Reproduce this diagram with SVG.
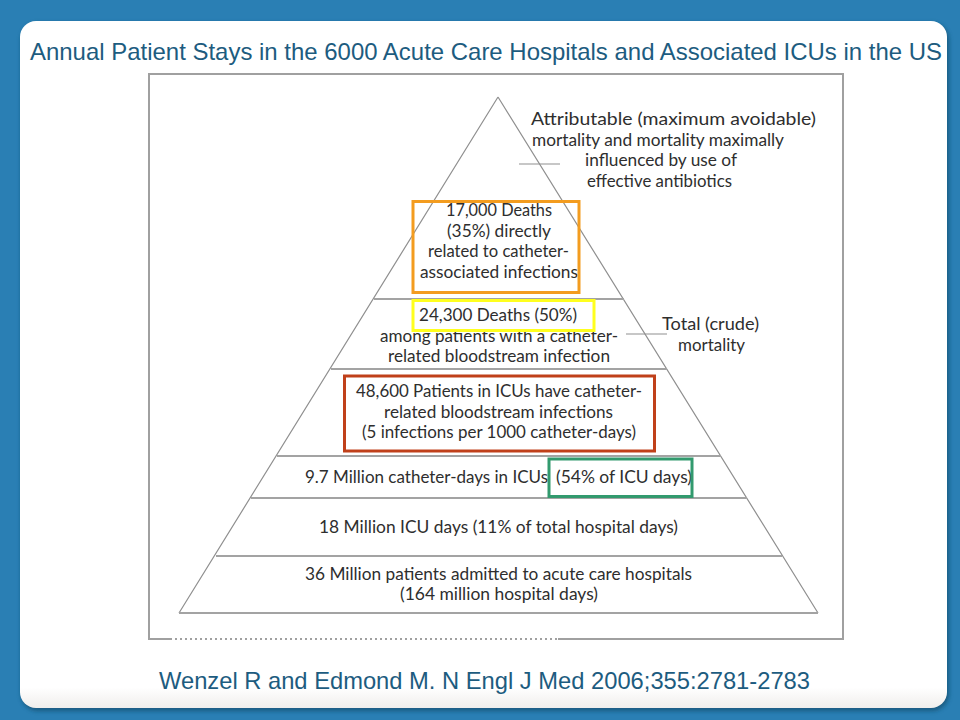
<svg xmlns="http://www.w3.org/2000/svg" width="960" height="720" viewBox="0 0 960 720">
<style>
.h{font-family:"Liberation Sans",Arial,sans-serif;font-size:24px;fill:#1d5c7f}
.t{font-family:Lato,"Open Sans",sans-serif;font-size:16.500px;fill:#2e2e2e;text-anchor:start}
.l{stroke:#8f8f8f;stroke-width:1.2;fill:none}
.b{stroke:#a3a3a3;stroke-width:2;fill:none}
.r{fill:none;stroke-width:3}
</style>
<defs>
<linearGradient id="card" x1="0" y1="0" x2="0" y2="1"><stop offset="0" stop-color="#fff"/><stop offset="0.97" stop-color="#fff"/><stop offset="1" stop-color="#f0eeec"/></linearGradient>
<filter id="sh" x="-5%" y="-5%" width="110%" height="110%"><feGaussianBlur stdDeviation="2"/></filter>
</defs>
<rect width="960" height="720" fill="#2a7fb4"/>
<rect x="21" y="23" width="928" height="688" rx="17" fill="#17506f" opacity=".75" filter="url(#sh)"/>
<rect x="20" y="21" width="927" height="687" rx="16" fill="url(#card)"/>
<text class="h" x="30" y="60" textLength="912" lengthAdjust="spacingAndGlyphs">Annual Patient Stays in the 6000 Acute Care Hospitals and Associated ICUs in the US</text>
<text class="h" x="159" y="689" textLength="651" lengthAdjust="spacingAndGlyphs">Wenzel R and Edmond M. N Engl J Med 2006;355:2781-2783</text>
<g id="figure">
<rect x="149" y="74" width="694" height="565" fill="#fff" stroke="#a0a0a0" stroke-width="2"/>
<line x1="172" y1="639" x2="558" y2="639" stroke="#fff" stroke-width="2" stroke-dasharray="3 2"/>
</g>
<g id="connectors">
<path class="l" d="M498 97 179 613M498 97 818 613"/>
<path class="b" d="M374 299H624M331 369H667M277 456H721M251 498H747M216 556H782M179 613H818"/>
<path class="l" d="M519 164H560M626 334H667"/>
</g>
<g id="attributable">
<text class="t" x="531" y="125" textLength="285" lengthAdjust="spacingAndGlyphs">Attributable (maximum avoidable)</text>
<text class="t" x="532" y="146" textLength="252" lengthAdjust="spacingAndGlyphs">mortality and mortality maximally</text>
<text class="t" x="585" y="166" textLength="152" lengthAdjust="spacingAndGlyphs">influenced by use of</text>
<text class="t" x="587" y="187" textLength="145" lengthAdjust="spacingAndGlyphs">effective antibiotics</text>
</g>
<g id="deaths-17000">
<text class="t" x="446" y="216" textLength="106" lengthAdjust="spacingAndGlyphs">17,000 Deaths</text>
<text class="t" x="447" y="237" textLength="104" lengthAdjust="spacingAndGlyphs">(35%) directly</text>
<text class="t" x="428" y="257" textLength="141" lengthAdjust="spacingAndGlyphs">related to catheter-</text>
<text class="t" x="420" y="278" textLength="158" lengthAdjust="spacingAndGlyphs">associated infections</text>
<rect class="r" x="413" y="201.500" width="166" height="91" stroke="#f39c1f"/>
</g>
<g id="deaths-24300">
<text class="t" x="419" y="321" textLength="158" lengthAdjust="spacingAndGlyphs">24,300 Deaths (50%)</text>
<text class="t" x="380" y="342" textLength="238" lengthAdjust="spacingAndGlyphs">among patients with a catheter-</text>
<text class="t" x="388" y="362" textLength="222" lengthAdjust="spacingAndGlyphs">related bloodstream infection</text>
<rect class="r" x="413" y="300.500" width="181" height="30" stroke="#ffff1e"/>
</g>
<g id="total-mortality">
<text class="t" x="662" y="330" textLength="97" lengthAdjust="spacingAndGlyphs">Total (crude)</text>
<text class="t" x="678" y="351" textLength="67" lengthAdjust="spacingAndGlyphs">mortality</text>
</g>
<g id="patients-48600">
<text class="t" x="356" y="397" textLength="286" lengthAdjust="spacingAndGlyphs">48,600 Patients in ICUs have catheter-</text>
<text class="t" x="384" y="418" textLength="229" lengthAdjust="spacingAndGlyphs">related bloodstream infections</text>
<text class="t" x="362" y="438" textLength="274" lengthAdjust="spacingAndGlyphs">(5 infections per 1000 catheter-days)</text>
<rect class="r" x="344.500" y="376" width="310" height="75" stroke="#c0401a"/>
</g>
<g id="catheter-days">
<text class="t" x="305" y="483" textLength="243" lengthAdjust="spacingAndGlyphs">9.7 Million catheter-days in ICUs</text>
<text class="t" x="556" y="483" textLength="136" lengthAdjust="spacingAndGlyphs">(54% of ICU days)</text>
<rect class="r" x="549" y="459" width="143" height="37.500" stroke="#329a6e"/>
</g>
<g id="icu-days">
<text class="t" x="319" y="533" textLength="359" lengthAdjust="spacingAndGlyphs">18 Million ICU days (11% of total hospital days)</text>
</g>
<g id="patients-36m">
<text class="t" x="305" y="580" textLength="387" lengthAdjust="spacingAndGlyphs">36 Million patients admitted to acute care hospitals</text>
<text class="t" x="400" y="600" textLength="198" lengthAdjust="spacingAndGlyphs">(164 million hospital days)</text>
</g>
</svg>
